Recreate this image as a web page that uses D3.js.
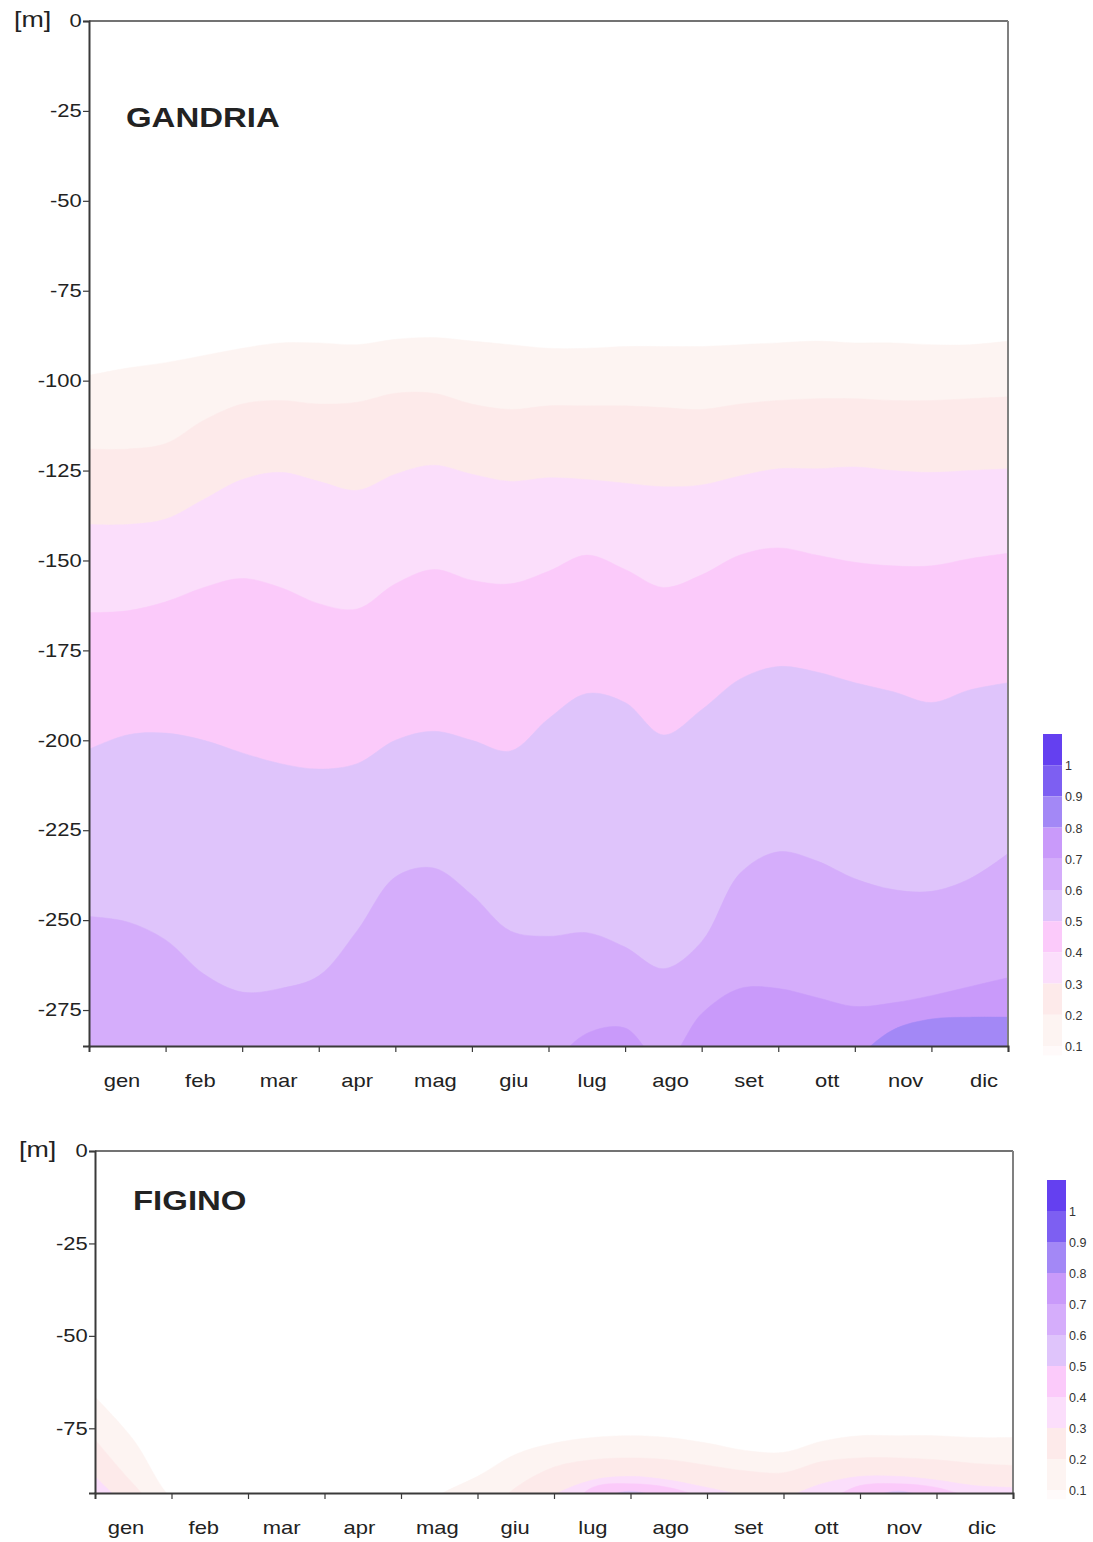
<!DOCTYPE html>
<html>
<head>
<meta charset="utf-8">
<script src="https://cdn.jsdelivr.net/npm/d3@7"></script>
<style>
  body { margin: 0; background: #fff; }
  svg { display: block; font-family: "Liberation Sans", Arial, sans-serif; }
</style>
</head>
<body>
<svg id="chart" width="1093" height="1542"></svg>
<script>
// month labels and sample positions (month units, 0 = start of gen)
const months = ["gen", "feb", "mar", "apr", "mag", "giu", "lug", "ago", "set", "ott", "nov", "dic"];
const monthTicks = [1, 2, 3, 4, 5, 6, 7, 8, 9, 10, 11, 12];
const sampleMonths = [0, 0.5, 1, 1.5, 2, 2.5, 3, 3.5, 4, 4.5, 5, 5.5, 6,
                      6.5, 7, 7.5, 8, 8.5, 9, 9.5, 10, 10.5, 11, 11.5, 12];

// contour levels and legend labels
const levels = [0.1, 0.2, 0.3, 0.4, 0.5, 0.6, 0.7, 0.8, 0.9, 1];
const legendLabels = ["1", "0.9", "0.8", "0.7", "0.6", "0.5", "0.4", "0.3", "0.2", "0.1"];
const levelColors = ["#fdf4f2", "#fdeaea", "#fbdefb", "#fbcafa", "#dfc4fb",
                     "#d5adfb", "#c99afa", "#a388f6", "#7d5ff2", "#6440f0"];
const belowColor = "#fffafa";

const gandriaTicks = [0, -25, -50, -75, -100, -125, -150, -175, -200, -225, -250, -275];
const figinoTicks = [0, -25, -50, -75];

// GANDRIA: depth [m] of each isoline at sampleMonths (values below the bottom = level absent)
const gandria01 = [-98.5, -96.5, -95, -93, -91, -89.5, -89.5, -90, -88.5, -88, -89, -90, -91,
                   -91, -90.5, -90.5, -90.5, -90, -89.5, -89, -89.5, -89.5, -90, -90, -89];
const gandria02 = [-119, -119, -117.5, -111, -106.5, -105.5, -106.5, -106, -103.5, -103.5, -106.5, -108, -107,
                   -107, -107, -107.5, -108, -106.5, -105.5, -105, -105, -105.5, -105.5, -105, -104.5];
const gandria03 = [-140, -140, -138.5, -133, -127.5, -125.5, -128, -130.5, -126, -123.5, -126, -128, -127,
                   -127.5, -128.5, -129.5, -129, -126.5, -124.5, -124.5, -124, -125, -125.5, -125, -124.5];
const gandria04 = [-164.5, -164, -161.5, -157.5, -155, -157.5, -162, -163.5, -156.5, -152.5, -155.5, -156.5, -153,
                   -148.5, -152.5, -157.5, -154, -148.5, -146.5, -148.5, -150.5, -151.5, -151.5, -149.5, -148];
const gandria05 = [-202.5, -198.5, -198, -200, -203.5, -206.5, -208, -206.5, -200, -197.5, -200, -203, -194,
                   -187, -189.5, -198.5, -191.5, -183, -179.5, -181, -184, -186.5, -189.5, -186, -184];
const gandria06 = [-249, -250.5, -255.5, -265, -270, -269, -265.5, -253, -238, -235.5, -243, -253, -254.5,
                   -253.5, -257.5, -263.5, -256, -237, -231, -233.5, -238.5, -241.5, -242, -238.5, -231.5];
const gandria07 = [-300, -300, -300, -300, -300, -300, -300, -300, -300, -300, -300, -300, -291,
                   -281.5, -280, -290, -276, -269, -269, -271.5, -274, -273, -271, -268.5, -266];
const gandria08 = [-300, -300, -300, -300, -300, -300, -300, -300, -300, -300, -300, -300, -300,
                   -300, -300, -300, -300, -300, -300, -300, -289, -280.5, -277.5, -277, -277];

// FIGINO
const figino01 = [-66.5, -78, -94, -100, -100, -100, -100, -100, -100, -93, -88, -82, -79,
                  -77.5, -77, -77.5, -79, -81, -81.5, -78.5, -77, -77, -77, -77.5, -77.5];
const figino02 = [-78, -90, -100, -100, -100, -100, -100, -100, -100, -100, -100, -91, -85.5,
                  -83.5, -83, -83.5, -85, -86.5, -87, -84, -83, -83, -83.5, -84.5, -85];
const figino03 = [-88, -97, -100, -100, -100, -100, -100, -100, -100, -100, -100, -100, -93,
                  -89, -88, -89, -91, -93, -93.5, -90, -88, -88, -89, -90.5, -91];
const figino04 = [-100, -100, -100, -100, -100, -100, -100, -100, -100, -100, -100, -100, -100,
                  -91, -90, -91, -94, -97, -97, -95, -90.5, -90, -91, -94, -96];
const figino05 = [-100, -100, -100, -100, -100, -100, -100, -100, -100, -100, -100, -100, -100,
                  -95, -92, -95, -100, -100, -100, -100, -95, -92, -95, -100, -100];

const svg = d3.select("#chart");
const stretch = 1.22;

function addText(g, x, y, str, size, anchor, weight) {
    return g.append("text")
        .attr("transform", "translate(" + x + "," + y + ") scale(" + stretch + ",1)")
        .attr("text-anchor", anchor || "start")
        .style("font-size", size + "px")
        .style("font-weight", weight || "normal")
        .style("fill", "#222")
        .text(str);
}

function drawPanel(p) {
    let g = svg.append("g");
    let x = d3.scaleLinear().domain([0, 12]).range([p.left, p.right]);
    let y = d3.scaleLinear().domain([0, p.bottomDepth]).range([p.top, p.bottom]);
    // month labels sit on their own slightly wider spacing
    let xLab = d3.scalePoint().domain(months).range(p.labelRange);

    g.append("clipPath").attr("id", p.id + "-clip")
        .append("rect")
        .attr("x", p.left).attr("y", p.top)
        .attr("width", p.right - p.left).attr("height", p.bottom - p.top);

    let area = d3.area()
        .x((d, i) => x(sampleMonths[i]))
        .y0(y(p.bottomDepth) + 5)
        .y1(d => y(d))
        .curve(d3.curveCatmullRom.alpha(0.5));

    let bands = g.append("g").attr("clip-path", "url(#" + p.id + "-clip)");
    p.series.forEach(function (s, i) {
        bands.append("path")
            .attr("d", area(s))
            .style("fill", levelColors[i])
            .style("stroke", levelColors[i])
            .style("stroke-width", 0.5);
    });

    // frame
    g.append("line").attr("x1", p.left).attr("x2", p.right).attr("y1", p.top).attr("y2", p.top)
        .style("stroke", "#444").style("stroke-width", 1.5);
    g.append("line").attr("x1", p.right).attr("x2", p.right).attr("y1", p.top).attr("y2", p.bottom)
        .style("stroke", "#808080").style("stroke-width", 2);

    // y axis
    let yAxis = d3.axisLeft(y).tickValues(p.ticks).tickSize(6).tickPadding(0).tickFormat(d => String(d));
    let yAxisG = g.append("g").attr("transform", "translate(" + p.left + ",0)").call(yAxis);
    yAxisG.select(".domain").style("stroke", "#3a3a3a").style("stroke-width", 2);
    yAxisG.selectAll(".tick line").style("stroke", "#3a3a3a").style("stroke-width", 1.2);
    yAxisG.selectAll("text")
        .attr("transform", "scale(" + stretch + ",1)")
        .style("font-size", "18px")
        .style("font-family", "'Liberation Sans', Arial, sans-serif")
        .style("fill", "#222");

    // x axis
    let xAxis = d3.axisBottom(x).tickValues(monthTicks).tickSize(6).tickFormat("");
    let xAxisG = g.append("g").attr("transform", "translate(0," + p.bottom + ")").call(xAxis);
    xAxisG.select(".domain").style("stroke", "#3a3a3a").style("stroke-width", 2);
    xAxisG.selectAll(".tick line").style("stroke", "#3a3a3a").style("stroke-width", 1.2);

    months.forEach(function (m) {
        addText(g, xLab(m), p.bottom + 41, m, 18, "middle");
    });

    addText(g, p.unitX, p.top + 6, "[m]", 22, "start");
    addText(g, p.titleX, p.titleY, p.title, 27, "start", "bold");

    // legend
    let lg = g.append("g");
    let ly = d3.scaleLinear().domain([1.1, 0]).range([p.legendTop, p.legendTop + 11 * p.legendStep]);
    let segs = [{hi: 1.1, lo: 1, c: levelColors[9]}];
    for (let k = 8; k >= 0; k--) {
        segs.push({hi: levels[k + 1], lo: levels[k], c: levelColors[k]});
    }
    segs.push({hi: 0.1, lo: 0.07, c: belowColor});
    lg.selectAll("rect").data(segs).enter().append("rect")
        .attr("x", p.legendX)
        .attr("y", d => ly(d.hi))
        .attr("width", 19)
        .attr("height", d => ly(d.lo) - ly(d.hi))
        .style("fill", d => d.c);
    lg.selectAll("text").data(legendLabels).enter().append("text")
        .attr("x", p.legendX + 22)
        .attr("y", (d, i) => ly(levels[9 - i]) + 5)
        .style("font-size", "12.5px")
        .style("fill", "#333")
        .text(d => d);
}

drawPanel({
    id: "gandria", left: 89, right: 1008, top: 21, bottom: 1046, bottomDepth: -285,
    ticks: gandriaTicks, title: "GANDRIA", titleX: 126, titleY: 127, unitX: 14,
    labelRange: [122, 984],
    series: [gandria01, gandria02, gandria03, gandria04, gandria05, gandria06, gandria07, gandria08],
    legendX: 1043, legendTop: 734, legendStep: 31.2
});

drawPanel({
    id: "figino", left: 95, right: 1013, top: 1151, bottom: 1493, bottomDepth: -92.5,
    ticks: figinoTicks, title: "FIGINO", titleX: 133, titleY: 1210, unitX: 19,
    labelRange: [126, 982],
    series: [figino01, figino02, figino03, figino04, figino05],
    legendX: 1047, legendTop: 1180, legendStep: 31
});
</script>
</body>
</html>
